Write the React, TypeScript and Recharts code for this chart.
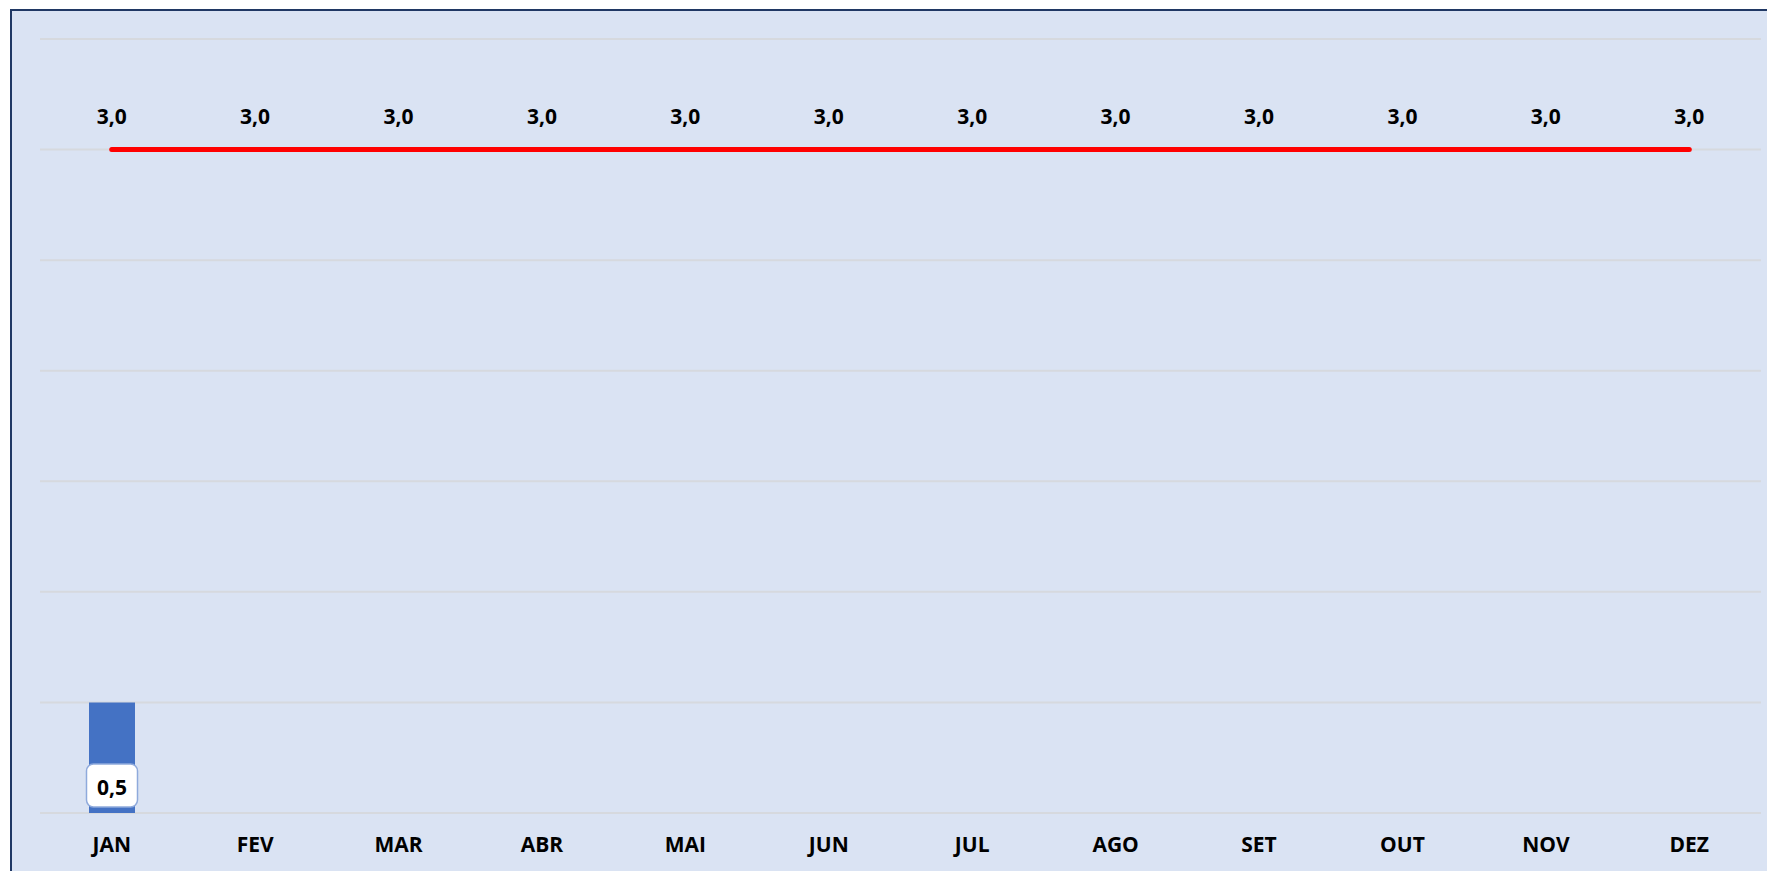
import React from "react";
import { ComposedChart, Bar, Line, XAxis, YAxis, CartesianGrid, LabelList } from "recharts";

const months = ["JAN", "FEV", "MAR", "ABR", "MAI", "JUN", "JUL", "AGO", "SET", "OUT", "NOV", "DEZ"];
const barValues: (number | null)[] = [0.5, null, null, null, null, null, null, null, null, null, null, null];
const lineValues: number[] = [3.0, 3.0, 3.0, 3.0, 3.0, 3.0, 3.0, 3.0, 3.0, 3.0, 3.0, 3.0];
const yTicks = [0, 0.5, 1, 1.5, 2, 2.5, 3, 3.5];

const data = months.map((m, i) => ({ month: m, bar: barValues[i], line: lineValues[i] }));

const FONT = "'Open Sans', Lato, sans-serif";
const fmt = (v: number) => v.toFixed(1).replace(".", ",");

const XTick = (props: any) => {
  const { x, y, payload } = props;
  return (
    <text x={x} y={y + 39} textAnchor="middle" fontFamily={FONT} fontWeight={700} fontSize={21} fill="#000">
      {payload.value}
    </text>
  );
};

const LineLabel = (props: any) => {
  const { x, y, value } = props;
  if (value == null) return null;
  return (
    <text x={x} y={y - 26} textAnchor="middle" fontFamily={FONT} fontWeight={700} fontSize={21} fill="#000">
      {fmt(value)}
    </text>
  );
};

const BarLabel = (props: any) => {
  const { x, y, width, height, value } = props;
  if (value == null) return null;
  const cx = x + width / 2;
  const bottom = y + height;
  const bw = 51;
  const bh = 43;
  return (
    <g>
      <rect x={cx - bw / 2} y={bottom - 6 - bh} width={bw} height={bh} rx={7} ry={7} fill="#ffffff" stroke="#8faadc" strokeWidth={1.5} />
      <text x={cx} y={bottom - 18} textAnchor="middle" fontFamily={FONT} fontWeight={700} fontSize={21} fill="#000">
        {fmt(value)}
      </text>
    </g>
  );
};

export default function App() {
  return (
    <div
      style={{
        position: "absolute",
        left: 10,
        top: 9,
        width: 1757,
        height: 862,
        boxSizing: "border-box",
        borderTop: "2px solid #203864",
        borderLeft: "2px solid #203864",
        background: "#dae3f3",
        overflow: "hidden",
      }}
    >
      <ComposedChart
        width={1755}
        height={860}
        data={data}
        margin={{ top: 28, right: 6, bottom: 8, left: 28 }}
      >
        <CartesianGrid horizontal vertical={false} stroke="#d6d9de" strokeWidth={2} />
        <XAxis
          dataKey="month"
          axisLine={false}
          tickLine={false}
          tickSize={0}
          tickMargin={0}
          height={50}
          tick={<XTick />}
          interval={0}
        />
        <YAxis hide domain={[0, 3.5]} ticks={yTicks} width={0} />
        <Bar dataKey="bar" fill="#4472c4" barSize={46} isAnimationActive={false}>
          <LabelList dataKey="bar" content={<BarLabel />} />
        </Bar>
        <Line
          type="linear"
          dataKey="line"
          stroke="#ff0000"
          strokeWidth={5}
          strokeLinecap="round"
          dot={false}
          activeDot={false}
          isAnimationActive={false}
        >
          <LabelList dataKey="line" content={<LineLabel />} />
        </Line>
      </ComposedChart>
    </div>
  );
}
